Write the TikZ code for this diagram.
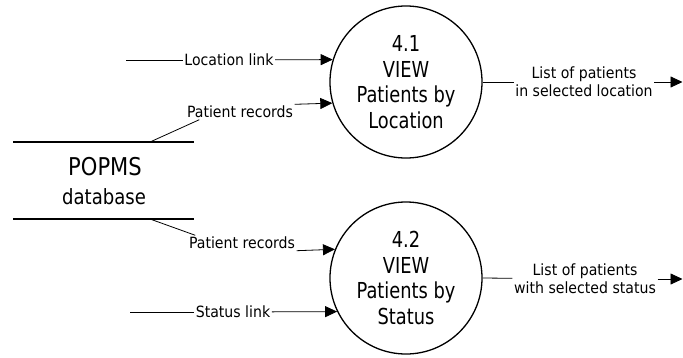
\documentclass[tikz,border=0pt]{standalone}
\usepackage{fontspec}
\setmainfont{DejaVu Sans}
\newfontfamily\circfont[FakeStretch=0.81]{DejaVu Sans}
\newfontfamily\labfont[FakeStretch=0.91]{DejaVu Sans}
\newfontfamily\dbfont[FakeStretch=0.86]{DejaVu Sans}
\usetikzlibrary{arrows.meta}
\tikzset{
  proc/.style={circle, draw, line width=1.3pt, minimum size=152pt, inner sep=0pt,
    align=center, font=\circfont\fontsize{22}{25.5}\selectfont},
  lab/.style={inner sep=1.5pt, font=\labfont\fontsize{15.5}{18}\selectfont, align=center},
  flow/.style={line width=0.8pt, -{Triangle[length=12pt,width=11pt]}},
  plain/.style={line width=0.8pt},
  store/.style={line width=1.5pt}
}
\begin{document}
\begin{tikzpicture}[x=1pt,y=-1pt]
\useasboundingbox (0,0) rectangle (683,357);
% processes
\node[proc] (p1) at (406,82) {4.1\\VIEW\\Patients by\\Location};
\node[proc] (p2) at (406,278) {4.2\\VIEW\\Patients by\\Status};
% data store
\coordinate (dbtl) at (13,142);
\coordinate (dbtr) at (194,142);
\coordinate (dbbl) at (13,219);
\coordinate (dbbr) at (194,219);
\draw[store] (dbtl) -- (dbtr);
\draw[store] (dbbl) -- (dbbr);
\node[inner sep=0pt, font=\dbfont\fontsize{24.5}{28}\selectfont] (dbname) at (105,167) {POPMS};
\node[inner sep=0pt, font=\dbfont\fontsize{21}{24}\selectfont] (dbsub) at (104,197) {database};
\coordinate (dbt) at (150,142);
\coordinate (dbb) at (150,219);
% location link
\coordinate (lsrc) at (126,60);
\node[lab] (ll) at (229,60) {Location link};
\draw[plain] (lsrc) -- (ll);
\draw[flow] (ll) -- (p1.163.2);
% patient records 1
\node[lab] (pr1) at (240,112) {Patient records};
\draw[plain] (dbt) -- ([xshift=14pt]pr1.south west);
\draw[flow] (pr1.north east) -- (p1.196.8);
% patient records 2
\node[lab] (pr2) at (242,243) {Patient records};
\draw[plain] (dbb) -- ([xshift=8pt]pr2.north west);
\draw[flow] (pr2.south east) -- (p2.158.4);
% status link
\coordinate (ssrc) at (130,312);
\node[lab] (sl) at (233,312) {Status link};
\draw[plain] (ssrc) -- (sl);
\draw[flow] (sl) -- (p2.206.6);
% outputs
\coordinate (o1) at (682.5,82);
\node[lab] (lo1) at (584,82) {List of patients\\in selected location};
\draw[plain] (p1.east) -- (lo1);
\draw[flow] (lo1) -- (o1);
\coordinate (o2) at (682.5,279);
\node[lab] (lo2) at (585,279) {List of patients\\with selected status};
\draw[plain] (p2.east) -- (lo2);
\draw[flow] (lo2) -- (o2);
\end{tikzpicture}
\end{document}
